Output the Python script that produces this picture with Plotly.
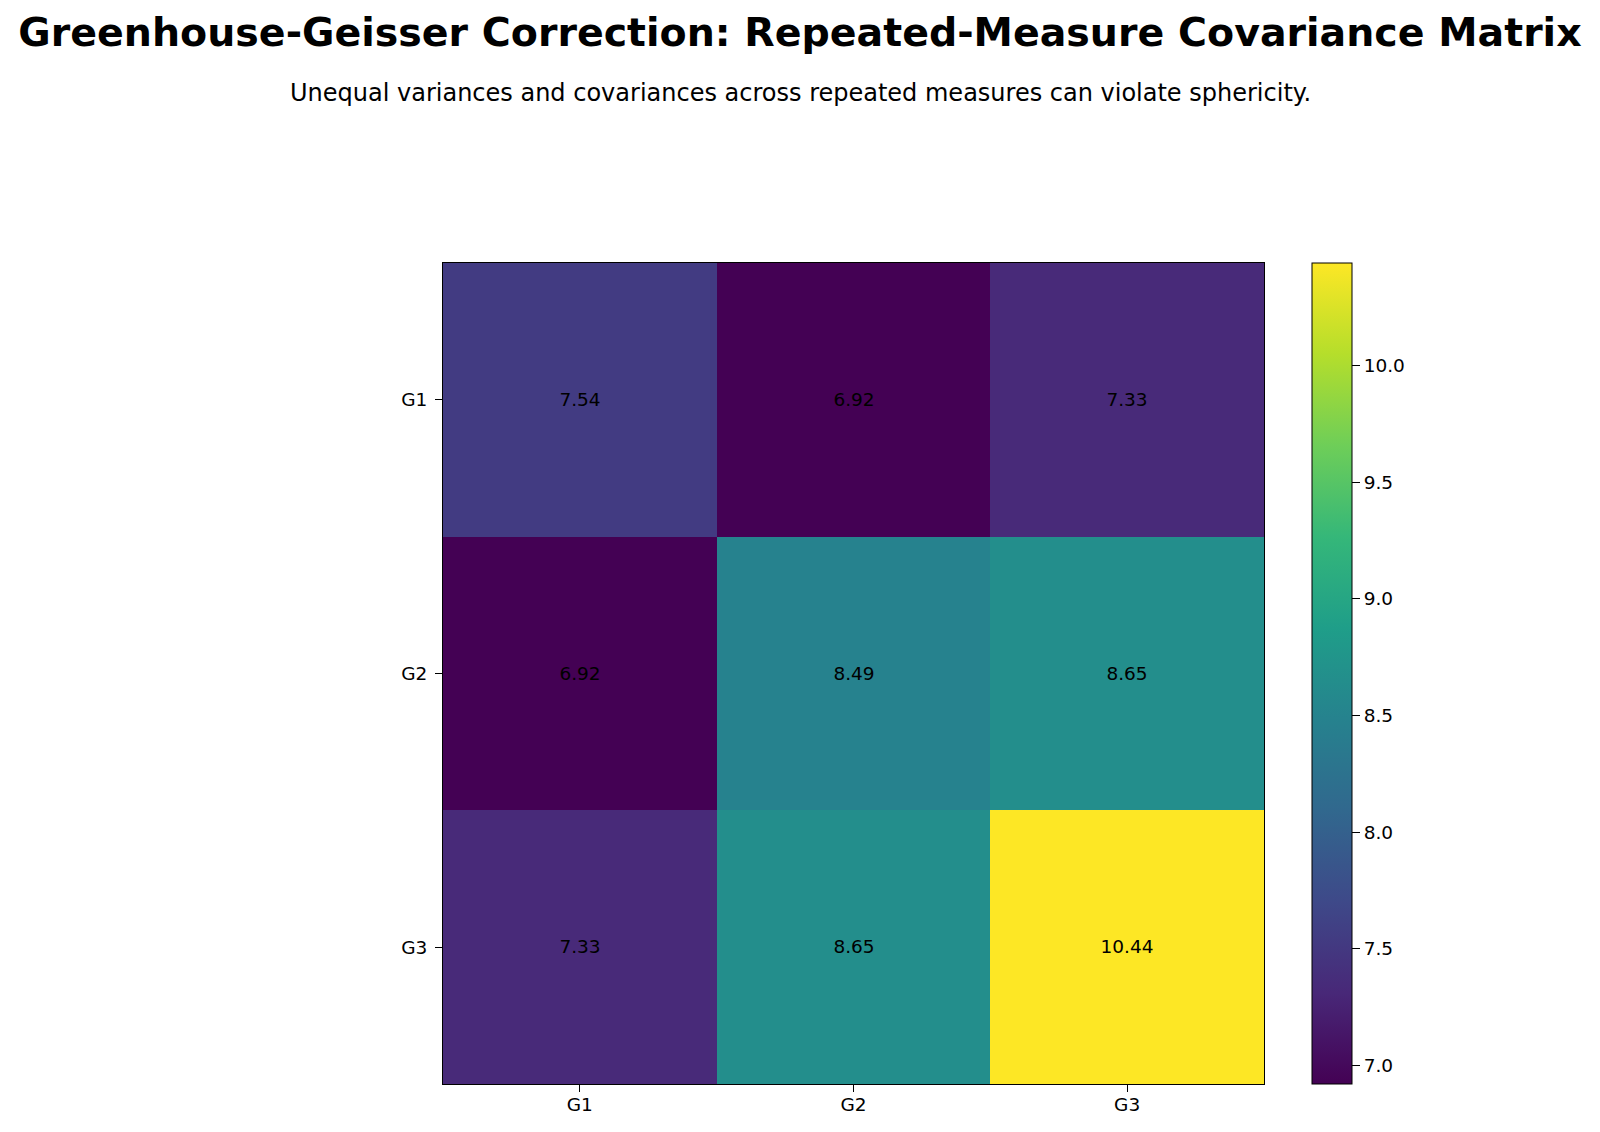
import plotly.graph_objects as go

groups = ["G1", "G2", "G3"]
row_g1 = [7.54, 6.92, 7.33]
row_g2 = [6.92, 8.49, 8.65]
row_g3 = [7.33, 8.65, 10.44]
z = [row_g1, row_g2, row_g3]

title = "Greenhouse-Geisser Correction: Repeated-Measure Covariance Matrix"
subtitle = "Unequal variances and covariances across repeated measures can violate sphericity."

FONT = "DejaVu Sans"
TS = 18.5
W, H = 1600, 1132
L, R, T, B = 443, 1264, 263, 1084
pw, ph = R - L, B - T

fig = go.Figure(go.Heatmap(
    z=z, x=groups, y=groups,
    colorscale="Viridis",
    zmin=min(min(r) for r in z), zmax=max(max(r) for r in z),
    texttemplate="%{z:.2f}",
    textfont=dict(family=FONT, size=TS, color="black"),
    xgap=0, ygap=0,
    colorbar=dict(
        thickness=40, thicknessmode="pixels",
        len=1, lenmode="fraction", y=0.5, yanchor="middle",
        x=(1312 - L) / pw, xanchor="left", xpad=0, ypad=0,
        outlinewidth=1, outlinecolor="black",
        ticks="outside", ticklen=8, tickcolor="black",
        tick0=7.0, dtick=0.5, tickformat=".1f",
        tickfont=dict(family=FONT, size=TS, color="black"),
    ),
    hoverinfo="skip",
))

fig.update_layout(
    width=W, height=H,
    margin=dict(l=L, r=W - R, t=T, b=H - B, pad=0),
    paper_bgcolor="white", plot_bgcolor="white",
    font=dict(family=FONT, color="black"),
    title=dict(
        text=title, x=0.5, xanchor="center", xref="container",
        y=1 - 32 / H, yanchor="middle", yref="container",
        font=dict(family=FONT, size=39.5, color="black", weight="bold"),
    ),
    annotations=[dict(
        text=subtitle, xref="paper", yref="paper",
        x=(800 - L) / pw, y=(B - 93) / ph, xanchor="center", yanchor="middle",
        showarrow=False, font=dict(family=FONT, size=24, color="black"),
    )],
)
fig.update_xaxes(
    type="category", showline=True, mirror=True, linecolor="black", linewidth=1,
    ticks="outside", ticklen=7, tickcolor="black", showgrid=False, zeroline=False,
    ticklabelstandoff=-3,
    tickfont=dict(family=FONT, size=TS, color="black"),
)
fig.update_yaxes(
    type="category", autorange="reversed",
    showline=True, mirror=True, linecolor="black", linewidth=1,
    ticks="outside", ticklen=7, tickcolor="black", showgrid=False, zeroline=False,
    ticklabelstandoff=4,
    tickfont=dict(family=FONT, size=TS, color="black"),
)

fig.write_html("out.html")
